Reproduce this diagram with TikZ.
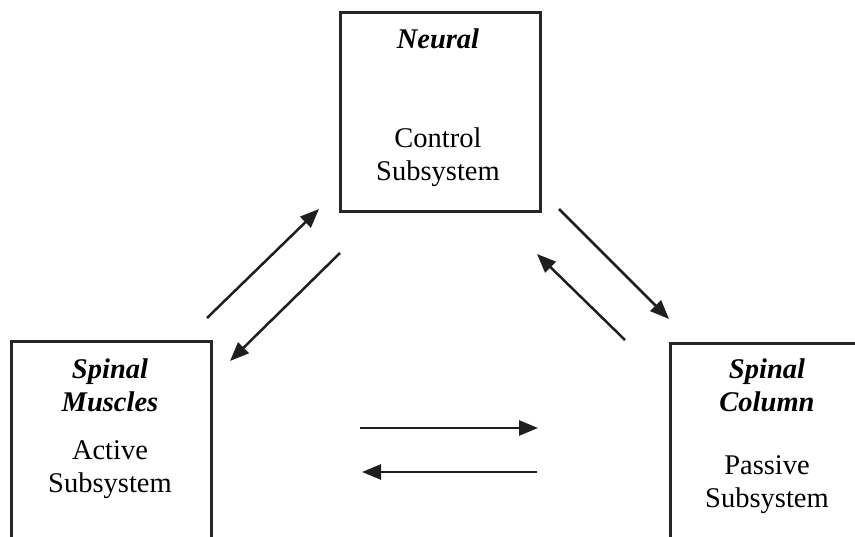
\documentclass[tikz,border=0pt]{standalone}
\usepackage{fontspec}
\setmainfont{Liberation Serif}
\usetikzlibrary{arrows.meta}
\begin{document}
\begin{tikzpicture}[x=1pt,y=-1pt,
  box/.style={draw=black!85,line width=2.6pt,anchor=north west,inner sep=0pt},
  lbl/.style={font=\fontsize{28.5}{33}\selectfont,align=center,inner sep=0pt},
  hd/.style={font=\fontsize{28.5}{33}\selectfont\bfseries\itshape,align=center,inner sep=0pt},
  conn/.style={line width=2.5pt,draw=black!88,-{Triangle[length=19pt,width=15pt]}}]
\useasboundingbox (0,0) rectangle (855,537);
\clip (0,0) rectangle (855,537);
\fill[white] (0,0) rectangle (855,537);
% boxes
\node[box,minimum width=200pt,minimum height=199pt] (neural) at (339,11) {};
\node[box,minimum width=200pt,minimum height=230pt] (muscles) at (10,340) {};
\node[box,minimum width=220pt,minimum height=230pt] (column) at (669,342) {};
% texts
\node[hd] (t1) at (438,39) {Neural};
\node[lbl] (t2) at (438,157) {Control\\Subsystem};
\node[hd] (t3) at (110,385) {Spinal\\Muscles};
\node[lbl] (t4) at (110,470) {Active\\Subsystem};
\node[hd] (t5) at (767,385) {Spinal\\Column};
\node[lbl] (t6) at (767,485) {Passive\\Subsystem};
% arrow endpoints
\coordinate (a1s) at (207,318); \coordinate (a1e) at (319,209);
\coordinate (a2s) at (340,253); \coordinate (a2e) at (230,361);
\coordinate (a3s) at (559,209); \coordinate (a3e) at (669,319);
\coordinate (a4s) at (625,340); \coordinate (a4e) at (537,254);
\coordinate (a5s) at (360,428); \coordinate (a5e) at (538,428);
\coordinate (a6s) at (537,472); \coordinate (a6e) at (362,472);
\draw[conn] (a1s) -- (a1e);
\draw[conn] (a2s) -- (a2e);
\draw[conn] (a3s) -- (a3e);
\draw[conn] (a4s) -- (a4e);
\draw[conn] (a5s) -- (a5e);
\draw[conn] (a6s) -- (a6e);
\end{tikzpicture}
\end{document}
